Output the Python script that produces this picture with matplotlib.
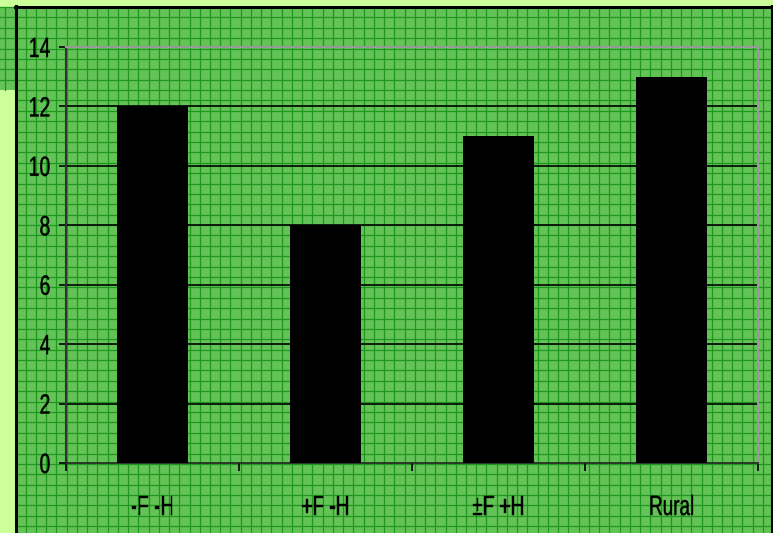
import matplotlib.pyplot as plt
import numpy as np
from matplotlib.patches import Rectangle
from matplotlib.patheffects import AbstractPathEffect
from matplotlib.transforms import Affine2D

categories = ["-F -H", "+F -H", "\u00b1F +H", "Rural"]
values = [12, 8, 11, 13]
yticks = [0, 2, 4, 6, 8, 10, 12, 14]

plt.rcParams["font.family"] = ["Liberation Sans", "DejaVu Sans"]


class Squeeze(AbstractPathEffect):
    # narrow the glyphs horizontally (the original uses a condensed font)
    def __init__(self, sx, anchor="center", stroke=0.3):
        super().__init__()
        self.sx = sx
        self.anchor = anchor
        self.stroke = stroke

    def draw_path(self, renderer, gc, tpath, affine, rgbFace=None):
        ext = tpath.get_extents()
        cx = ext.x1 if self.anchor == "right" else (ext.x0 + ext.x1) / 2
        t = Affine2D().translate(-cx, 0).scale(self.sx, 1).translate(cx, 0) + affine
        gc0 = renderer.new_gc()
        gc0.copy_properties(gc)
        gc0.set_linewidth(self.stroke)
        gc0.set_foreground(rgbFace)
        renderer.draw_path(gc0, tpath, t, rgbFace)
        gc0.restore()


W, H = 773, 533
fig = plt.figure(figsize=(W / 100, H / 100), dpi=100, facecolor="#ccff99")

# background panel with graph-paper pattern, in pixel coordinates
bg = fig.add_axes([0, 0, 1, 1], zorder=0)
bg.set_xlim(0, W)
bg.set_ylim(H, 0)
bg.axis("off")
green = "#64c356"
gridc = "#1f961f"
bg.add_patch(Rectangle((0, 7), 16, 83, facecolor=green, edgecolor="none"))
bg.add_patch(Rectangle((16, 7), 755, 530, facecolor=green, edgecolor="none"))
for x in np.arange(5.2, W, 10.24):
    bg.plot([x, x], [7, H if x > 16 else 90], color=gridc, lw=0.9)
for y in np.arange(7, H, 10.385):
    bg.plot([16, 771], [y, y], color=gridc, lw=0.9)
    if y < 90:
        bg.plot([0, 16], [y, y], color=gridc, lw=0.9)
bg.plot([16, 16], [6, H], color="black", lw=2.2)
bg.plot([15, 772], [7, 7], color="black", lw=2.2)
bg.plot([771.5, 771.5], [6, H], color="black", lw=2.2)

ax = fig.add_axes([66 / W, (H - 463) / H, (758 - 66) / W, (463 - 47) / H], zorder=1)
ax.set_facecolor("none")
x = np.arange(len(categories))
ax.bar(x, values, width=0.41, color="black", zorder=3)
ax.set_xlim(-0.5, 3.5)
ax.set_ylim(0, 14)
ax.set_yticks(yticks)
ax.set_yticklabels([str(t) for t in yticks], fontsize=20)
ax.set_xticks(x)
ax.set_xticklabels(categories, fontsize=20)
ax.set_xticks(np.arange(-0.5, 3.6, 1), minor=True)
ax.tick_params(axis="x", which="major", length=0, pad=23)
ax.tick_params(axis="x", which="minor", length=6, width=1.2, direction="out")
ax.tick_params(axis="y", length=5, width=1.2, pad=6, direction="out")
for lbl in ax.get_yticklabels():
    lbl.set_path_effects([Squeeze(0.7, "right")])
for lbl in ax.get_xticklabels():
    lbl.set_path_effects([Squeeze(0.68, "center")])
for t in yticks[1:-1]:
    ax.axhline(t, color="black", lw=1.2, zorder=1)
ax.spines["left"].set_color("#333333")
ax.spines["left"].set_linewidth(1.5)
ax.spines["bottom"].set_color("#222222")
ax.spines["bottom"].set_linewidth(1.2)
ax.spines["top"].set_color("#999999")
ax.spines["right"].set_color("#999999")
ax.spines["top"].set_linewidth(1.5)
ax.spines["right"].set_linewidth(1.5)

fig.savefig("out.png", dpi=100, facecolor=fig.get_facecolor())
